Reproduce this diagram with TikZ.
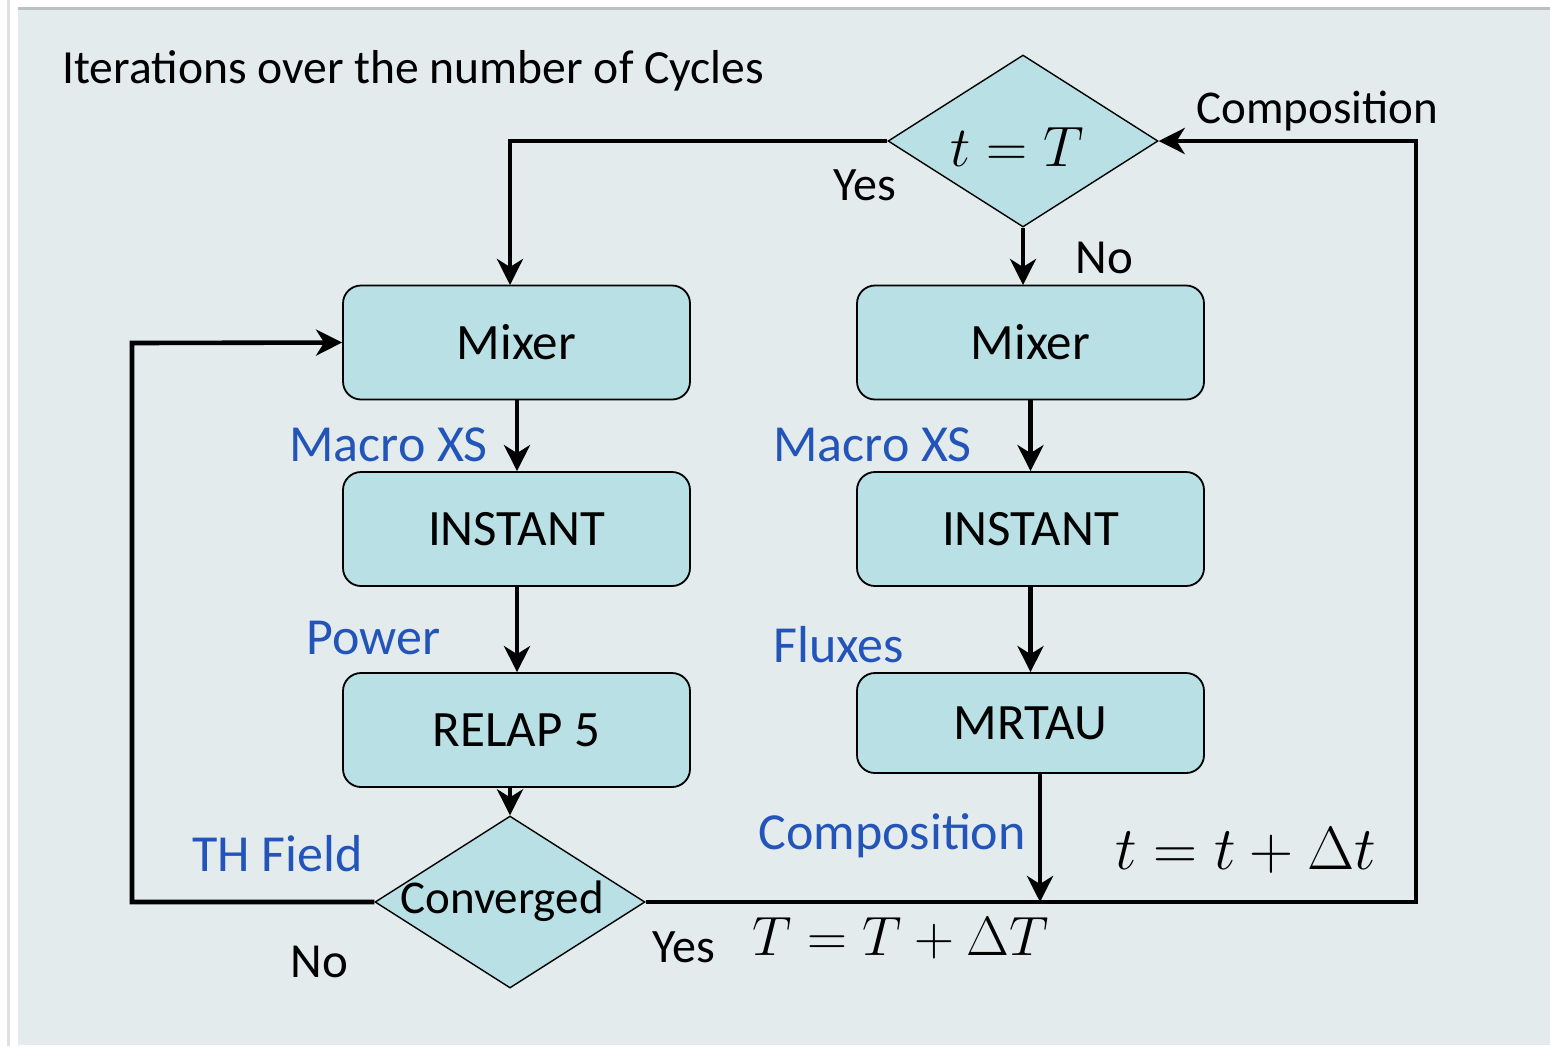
\documentclass[tikz,border=0pt]{standalone}
\usepackage{fix-cm}
\usepackage{fontspec}
\setmainfont{Carlito}
\usetikzlibrary{shapes.geometric,arrows.meta}
\definecolor{panel}{RGB}{227,235,237}
\definecolor{boxfill}{RGB}{185,224,228}
\definecolor{lblue}{RGB}{35,84,185}
\tikzset{
  procbox/.style={draw=black,line width=0.9pt,fill=boxfill,rounded corners=9pt,
    minimum width=173.5pt,minimum height=57pt,inner sep=0pt,
    font=\fontsize{25.5}{30}\selectfont},
  decbox/.style={draw=black,line width=0.7pt,fill=boxfill,diamond,aspect=1.57,
    minimum width=135pt,minimum height=86pt,inner sep=0pt},
  flow/.style={line width=2.3pt,-{Stealth[length=13pt,width=13pt,inset=4pt]}},
  bluelbl/.style={text=lblue,anchor=base west,inner sep=0pt,font=\fontsize{26}{30}\selectfont},
  blacklbl/.style={anchor=base west,inner sep=0pt,font=\fontsize{24}{28}\selectfont},
  mathlbl/.style={anchor=base west,inner sep=0pt,font=\fontsize{28.5}{33}\selectfont},
}
\begin{document}
\begin{tikzpicture}[x=0.5pt,y=-0.5pt]
\useasboundingbox (0,0) rectangle (1550,1046);
\fill[white] (0,0) rectangle (1550,1046);
\fill[black!12] (7,0) rectangle (10,1046);
\fill[panel] (18,8) rectangle (1550,1045);
\fill[black!25] (18,7) rectangle (1550,10);

% title
\node[anchor=base west,inner sep=0pt,font=\fontsize{23.8}{28}\selectfont] (title) at (62,83) {Iterations over the number of Cycles};

% decision nodes
\node[decbox] (tT) at (1023,141) {};
\node[mathlbl,anchor=base] (tTtext) at (1017,166) {$t=T$};
\node[decbox] (conv) at (510,902) {};
\node[anchor=base,inner sep=0pt,font=\fontsize{23.5}{28}\selectfont] (convtext) at (502,913) {Converged};

% process boxes
\node[procbox] (mixL) at (516.5,342.5) {Mixer};
\node[procbox] (instL) at (516.5,529) {INSTANT};
\node[procbox] (relap) at (516.5,730) {RELAP 5};
\node[procbox] (mixR) at (1030.5,342.5) {Mixer};
\node[procbox] (instR) at (1030.5,529) {INSTANT};
\node[procbox,minimum height=50pt] (mrtau) at (1030.5,723) {MRTAU};

% coordinates
\coordinate (jL) at (510,285);
\coordinate (jR) at (1023,285);
\coordinate (mE) at (1040,902);

% connectors
\draw[flow] (tT.west) -| (jL);
\draw[flow] (tT.south) -- (jR);
\draw[flow] (mixL.south -| 517,0) -- (instL.north -| 517,0);
\draw[flow] (instL.south -| 517,0) -- (relap.north -| 517,0);
\draw[flow] (relap.south -| 510,0) -- (conv.north);
\draw[flow] (mixR.south) -- (instR.north);
\draw[flow] (instR.south) -- (mrtau.north);
\draw[flow] (mrtau.south -| mE) -- (mE);
\draw[flow] (conv.west) -- (132,902) -- (132,343) -- (mixL.west);
\draw[flow] (conv.east) -- (1416,902) -- (1416,141) -- (tT.east);

% labels
\node[blacklbl] (yes1) at (833,200) {Yes};
\node[blacklbl,font=\fontsize{24.5}{28}\selectfont] (no1) at (1075,273) {No};
\node[blacklbl,font=\fontsize{23.5}{28}\selectfont] (comp1) at (1196,123) {Composition};
\node[bluelbl] (mxsL) at (289,461) {Macro XS};
\node[bluelbl] (mxsR) at (773,461) {Macro XS};
\node[bluelbl] (power) at (306,654) {Power};
\node[bluelbl] (flux) at (773,662) {Fluxes};
\node[bluelbl] (thf) at (192,871) {TH Field};
\node[bluelbl] (comp2) at (758,849) {Composition};
\node[blacklbl,font=\fontsize{24.5}{28}\selectfont] (no2) at (290,977) {No};
\node[blacklbl] (yes2) at (652,962) {Yes};
\node[mathlbl,font=\fontsize{27.7}{32}\selectfont] (TT) at (752,955) {$T=T+\Delta T$};
\node[mathlbl,font=\fontsize{30.5}{35}\selectfont] (tt) at (1115,869) {$t=t+\Delta t$};
\end{tikzpicture}
\end{document}
